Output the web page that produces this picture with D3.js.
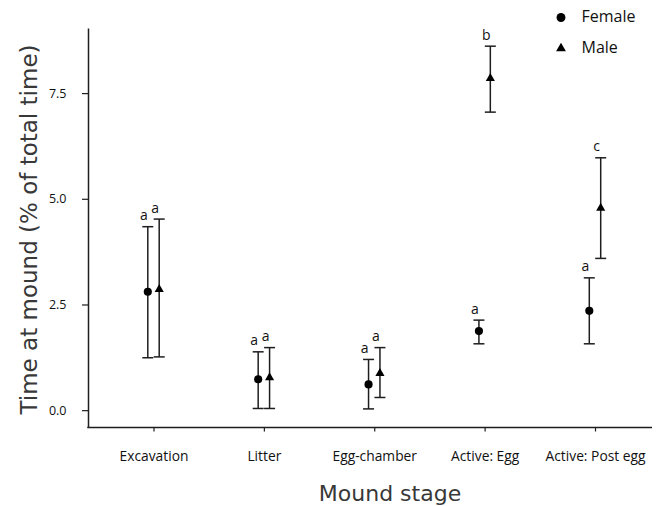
<!DOCTYPE html>
<html>
<head>
<meta charset="utf-8">
<script src="https://cdn.jsdelivr.net/npm/d3@7"></script>
<style>
  html, body { margin: 0; padding: 0; background: #fff; }
  svg { display: block; }
</style>
</head>
<body>
<div id="chart"></div>
<script>
// ---- data ----
const categories = ["Excavation", "Litter", "Egg-chamber", "Active: Egg", "Active: Post egg"];
const femaleMean = [2.80, 0.73, 0.61, 1.87, 2.35];
const femaleLow  = [1.24, 0.04, 0.03, 1.57, 1.57];
const femaleHigh = [4.34, 1.38, 1.20, 2.13, 3.13];
const femaleLetters = ["a", "a", "a", "a", "a"];
const maleMean = [2.86, 0.77, 0.87, 7.85, 4.78];
const maleLow  = [1.26, 0.04, 0.30, 7.05, 3.59];
const maleHigh = [4.52, 1.48, 1.48, 8.61, 5.97];
const maleLetters = ["a", "a", "a", "b", "c"];
const yTicks = [0, 2.5, 5, 7.5];
const seriesNames = ["Female", "Male"];

// ---- layout ----
const W = 662, H = 506;
const axisX = 88, axisBottom = 427.5, axisTop = 28, axisRight = 652;
const dodge = 5.7;
const capHalf = 5.5;
const ink = "#1e1e1e";

const svg = d3.select("#chart").append("svg")
  .attr("width", W).attr("height", H);

const x = d3.scalePoint().domain(categories).range([153.5, 595]);
const y = d3.scaleLinear().domain([-0.41, 9.04]).range([axisBottom, axisTop]);

// y axis
const yAxis = svg.append("g")
  .attr("transform", `translate(${axisX},0)`)
  .call(d3.axisLeft(y).tickValues(yTicks).tickFormat(d3.format(".1f"))
        .tickSize(6).tickSizeOuter(0).tickPadding(15.5));
yAxis.select(".domain").attr("stroke", ink).attr("stroke-width", 1.5);
yAxis.selectAll(".tick line").attr("stroke", ink).attr("stroke-width", 1.2);
yAxis.selectAll(".tick text")
  .attr("font-family", "'Open Sans', sans-serif").attr("font-size", 12.5)
  .attr("fill", "#111");

// x axis
const xAxis = svg.append("g")
  .attr("transform", `translate(0,${axisBottom})`)
  .call(d3.axisBottom(x).tickSize(4).tickSizeOuter(0));
xAxis.select(".domain").remove();
xAxis.append("line")
  .attr("x1", axisX - 0.75).attr("x2", axisRight)
  .attr("y1", 0).attr("y2", 0)
  .attr("stroke", ink).attr("stroke-width", 1.5);
xAxis.selectAll(".tick line").attr("stroke", ink).attr("stroke-width", 1.2);
xAxis.selectAll(".tick text")
  .attr("y", 33).attr("dy", null)
  .attr("font-family", "'Open Sans', sans-serif").attr("font-size", 13.8)
  .attr("fill", "#111");

// axis titles
svg.append("text")
  .attr("transform", `translate(37,229.5) rotate(-90)`)
  .attr("text-anchor", "middle")
  .attr("font-family", "'DejaVu Sans', sans-serif").attr("font-size", 23)
  .attr("fill", "#383838")
  .text("Time at mound (% of total time)");
svg.append("text")
  .attr("x", 390).attr("y", 501)
  .attr("text-anchor", "middle")
  .attr("font-family", "'DejaVu Sans', sans-serif").attr("font-size", 22)
  .attr("fill", "#383838")
  .text("Mound stage");

// build series
const series = [
  { name: seriesNames[0], off: -dodge, mean: femaleMean, lo: femaleLow, hi: femaleHigh, letters: femaleLetters, sym: d3.symbolCircle, size: 52 },
  { name: seriesNames[1], off: dodge, mean: maleMean, lo: maleLow, hi: maleHigh, letters: maleLetters, sym: d3.symbolTriangle, size: 36 }
];

series.forEach(s => {
  const rows = categories.map((c, i) => ({ c, m: s.mean[i], lo: s.lo[i], hi: s.hi[i], l: s.letters[i] }));
  const g = svg.append("g");
  const px = d => x(d.c) + s.off;
  // vertical bars
  g.selectAll(".v").data(rows).enter().append("line")
    .attr("x1", px).attr("x2", px)
    .attr("y1", d => y(d.lo)).attr("y2", d => y(d.hi))
    .attr("stroke", ink).attr("stroke-width", 1.5);
  // caps
  ["lo", "hi"].forEach(k => {
    g.selectAll(".cap-" + k).data(rows).enter().append("line")
      .attr("x1", d => px(d) - capHalf).attr("x2", d => px(d) + capHalf)
      .attr("y1", d => y(d[k])).attr("y2", d => y(d[k]))
      .attr("stroke", ink).attr("stroke-width", 1.5);
  });
  // markers
  g.selectAll(".pt").data(rows).enter().append("path")
    .attr("d", d3.symbol().type(s.sym).size(s.size))
    .attr("transform", d => `translate(${px(d)},${y(d.m)})`)
    .attr("fill", "#000");
  // letters
  g.selectAll(".lt").data(rows).enter().append("text")
    .attr("x", d => px(d) - 4).attr("y", d => y(d.hi) - 6.5)
    .attr("text-anchor", "middle")
    .attr("font-family", "'Open Sans', sans-serif").attr("font-size", 14)
    .attr("fill", "#111")
    .text(d => d.l);
});

// legend
const legend = svg.append("g");
const legendRows = [
  { name: seriesNames[0], sym: d3.symbolCircle, size: 62, cy: 17.5, ty: 22 },
  { name: seriesNames[1], sym: d3.symbolTriangle, size: 42, cy: 48.5, ty: 53.3 }
];
legendRows.forEach(r => {
  legend.append("path")
    .attr("d", d3.symbol().type(r.sym).size(r.size))
    .attr("transform", `translate(561,${r.cy})`)
    .attr("fill", "#000");
  legend.append("text")
    .attr("x", 581.5).attr("y", r.ty)
    .attr("font-family", "'Open Sans', sans-serif").attr("font-size", 16)
    .attr("fill", "#111")
    .text(r.name);
});
</script>
</body>
</html>
